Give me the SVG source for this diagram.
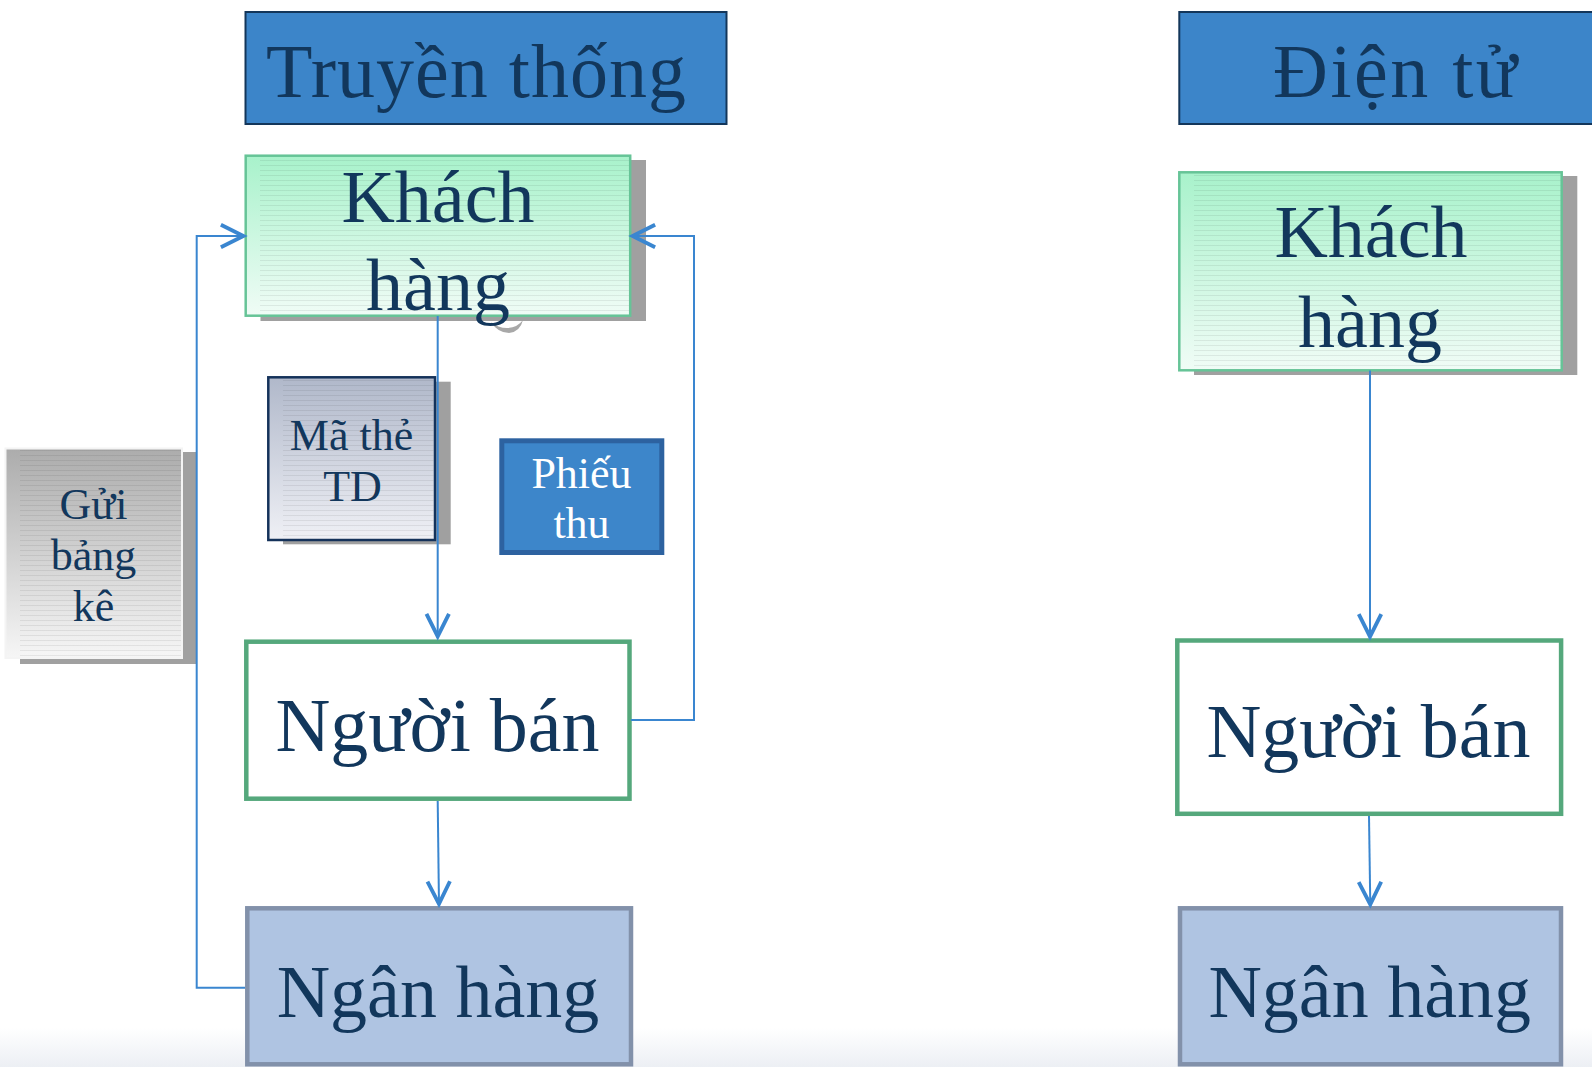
<svg xmlns="http://www.w3.org/2000/svg" width="1592" height="1067" viewBox="0 0 1592 1067">
  <defs>
    <linearGradient id="gKhach" x1="0" y1="0" x2="0" y2="1">
      <stop offset="0" stop-color="#a8f2cb"/>
      <stop offset="1" stop-color="#f0fcf6"/>
    </linearGradient>
    <linearGradient id="gMa" x1="0" y1="0" x2="0" y2="1">
      <stop offset="0" stop-color="#b0b8ca"/>
      <stop offset="1" stop-color="#eff0f5"/>
    </linearGradient>
    <linearGradient id="gGui" x1="0" y1="0" x2="0" y2="1">
      <stop offset="0" stop-color="#acacac"/>
      <stop offset="1" stop-color="#f6f6f6"/>
    </linearGradient>
    <linearGradient id="gFade" x1="0" y1="0" x2="0" y2="1">
      <stop offset="0" stop-color="#ffffff"/>
      <stop offset="1" stop-color="#eceff4"/>
    </linearGradient>
    <pattern id="lines" width="6" height="5" patternUnits="userSpaceOnUse">
      <rect x="0" y="0" width="6" height="1" fill="#000" fill-opacity="0.07"/>
    </pattern>
    <marker id="arr" markerUnits="userSpaceOnUse" markerWidth="30" markerHeight="30" viewBox="-24 -14 28 28" refX="1.5" refY="0" orient="auto">
      <path d="M -21 -10.5 L 0 0 L -21 10.5" fill="none" stroke="#3a86d0" stroke-width="3.6"/>
    </marker>
  </defs>
  <style>
    .t { font-family: "Liberation Serif", "Times New Roman", serif; fill: #12375c; text-anchor: middle; }
    .big { font-size: 76px; }
    .mid { font-size: 74px; }
    .small { font-size: 44px; }
    .white { fill: #ffffff; }
    .shadow { fill: #a0a0a0; }
    .title { fill: #3c85c9; stroke: #13365a; stroke-width: 2; }
    .khach { fill: url(#gKhach); stroke: #66c497; stroke-width: 2.5; }
    .ban { fill: #ffffff; stroke: #55a87c; stroke-width: 4.5; }
    .ngan { fill: #afc4e2; stroke: #8291aa; stroke-width: 4.5; }
    .conn { fill: none; stroke: #3a86d0; stroke-width: 2; marker-end: url(#arr); }
  </style>

  <rect x="0" y="0" width="1592" height="1067" fill="#ffffff"/>
  <rect x="0" y="1028" width="1592" height="39" fill="url(#gFade)"/>

  <g id="title-truyen-thong">
    <rect class="title" x="245.5" y="12" width="481" height="112"/>
    <text class="t big" x="476" y="97" font-size="77" textLength="420" lengthAdjust="spacing">Truyền thống</text>
  </g>

  <g id="title-dien-tu">
    <rect class="title" x="1179.3" y="12" width="430" height="112"/>
    <text class="t big" x="1395" y="97" font-size="77" textLength="244" lengthAdjust="spacing">Điện tử</text>
  </g>

  <g id="khach-hang-1">
    <path d="M491 322 Q498 333 509 333 Q520 332 523 320 Q517 328 507 328 Q498 328 491 322 Z" fill="#a8a8a8"/>
    <rect class="shadow" x="260.5" y="160" width="385.5" height="161"/>
    <rect class="khach" x="245.7" y="155.7" width="384.5" height="160"/>
    <rect x="260" y="157" width="369" height="157.5" fill="url(#lines)"/>
    <text class="t mid" x="438" y="221.5">Khách</text>
    <text class="t mid" x="438" y="310">hàng</text>
  </g>

  <g id="gui-bang-ke">
    <rect class="shadow" x="20" y="452" width="176.7" height="212"/>
    <rect x="5.5" y="448.5" width="176.5" height="209.5" fill="url(#gGui)" stroke="#f4f4f4" stroke-width="2"/>
    <rect x="20" y="450" width="161" height="207" fill="url(#lines)"/>
    <text class="t small" x="93.5" y="519">Gửi</text>
    <text class="t small" x="93.5" y="570">bảng</text>
    <text class="t small" x="93.5" y="621">kê</text>
  </g>

  <g id="ma-the-td">
    <rect class="shadow" x="283" y="381.7" width="167.7" height="162.6"/>
    <rect x="268.3" y="377.3" width="166.7" height="162.7" fill="url(#gMa)" stroke="#14325a" stroke-width="2.5"/>
    <rect x="283" y="379" width="150.5" height="159.5" fill="url(#lines)"/>
    <text class="t small" x="351.5" y="450">Mã thẻ</text>
    <text class="t small" x="352.5" y="500.7">TD</text>
  </g>

  <g id="phieu-thu">
    <rect x="501.8" y="440.8" width="160" height="111.7" fill="#3d86ca" stroke="#2d62a0" stroke-width="5"/>
    <text class="t small white" x="581.5" y="488.3">Phiếu</text>
    <text class="t small white" x="581.5" y="537.7">thu</text>
  </g>

  <g id="nguoi-ban-1">
    <rect class="ban" x="246.3" y="641.7" width="383.2" height="157"/>
    <text class="t big" x="437.5" y="750.7">Người bán</text>
  </g>

  <g id="ngan-hang-1">
    <rect class="ngan" x="247.3" y="908.3" width="383.7" height="156"/>
    <text class="t mid" x="438" y="1017">Ngân hàng</text>
  </g>

  <g id="khach-hang-2">
    <rect class="shadow" x="1194" y="176" width="383.3" height="199"/>
    <rect class="khach" x="1179.3" y="172.3" width="382.4" height="198"/>
    <rect x="1194" y="174" width="366.5" height="195" fill="url(#lines)"/>
    <text class="t mid" x="1371" y="256.7">Khách</text>
    <text class="t mid" x="1370" y="346.7">hàng</text>
  </g>

  <g id="nguoi-ban-2">
    <rect class="ban" x="1177.3" y="640.5" width="383.8" height="173.3"/>
    <text class="t big" x="1368.5" y="756.7">Người bán</text>
  </g>

  <g id="ngan-hang-2">
    <rect class="ngan" x="1180" y="908.3" width="381" height="156"/>
    <text class="t mid" x="1369.7" y="1017">Ngân hàng</text>
  </g>

  <g id="connectors">
    <path class="conn" d="M437.7 316 V638"/>
    <path class="conn" d="M437.7 801 L439 905.5"/>
    <path class="conn" d="M631 720 H694 V236 H631"/>
    <path class="conn" d="M245 987.7 H196.7 V236 H245"/>
    <path class="conn" d="M1370 370.5 V638.3"/>
    <path class="conn" d="M1369 816 L1370.3 906"/>
  </g>
</svg>
